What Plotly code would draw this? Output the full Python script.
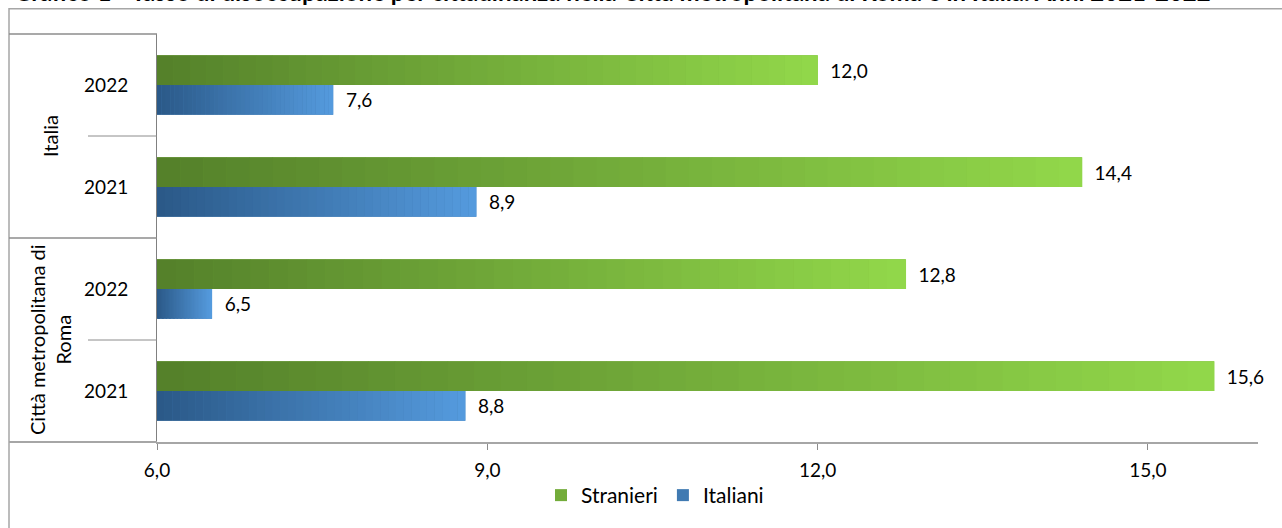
import plotly.graph_objects as go

# ---- data ----
groups = ["Italia", "Italia", "Città metropolitana di<br>Roma", "Città metropolitana di<br>Roma"]
years = ["2022", "2021", "2022", "2021"]
stranieri = [12.0, 14.4, 12.8, 15.6]
italiani = [7.6, 8.9, 6.5, 8.8]
group_labels = ["Italia", "Città metropolitana di<br>Roma"]
x_ticks = [6, 9, 12, 15]
title_text = ("Grafico 1 - Tasso di disoccupazione per cittadinanza nella Città metropolitana di Roma "
              "e in Italia. Anni 2021-2022")

# ---- styling ----
AX_MIN, AX_MAX = 6, 16
N_SEG = 40
FONT = "Lato"
green_dark, green_light = (84, 128, 42), (146, 216, 74)
blue_dark, blue_light = (42, 88, 135), (85, 155, 222)

cat_ids = [f"{g}|{y}" for g, y in zip(groups, years)]


def mix(c0, c1, t):
    return "rgb({},{},{})".format(*[round(a + (b - a) * t) for a, b in zip(c0, c1)])


fig = go.Figure()


def add_series(name, vals, c0, c1, rank):
    # base bar (carries value labels + legend)
    fig.add_trace(go.Bar(
        y=cat_ids, x=vals, orientation="h", name=name,
        marker=dict(color=mix(c0, c1, 0.5), line=dict(width=0)),
        offsetgroup=name, legendrank=rank,
        texttemplate="\u00a0\u00a0%{x:.1f}", textposition="outside",
        textfont=dict(family=FONT, size=19, color="#000000"),
        cliponaxis=False,
    ))
    # gradient overlay segments
    ys, xs, bs, cs = [], [], [], []
    for cid, v in zip(cat_ids, vals):
        w = (v - AX_MIN) / N_SEG
        for k in range(N_SEG):
            ys.append(cid)
            xs.append(w * 1.02)
            bs.append(AX_MIN + k * w)
            cs.append(mix(c0, c1, (k + 0.5) / N_SEG))
    fig.add_trace(go.Bar(
        y=ys, x=xs, base=bs, orientation="h", showlegend=False,
        marker=dict(color=cs, line=dict(width=0)), offsetgroup=name,
        hoverinfo="skip",
    ))


add_series("Italiani", italiani, blue_dark, blue_light, 2)
add_series("Stranieri", stranieri, green_dark, green_light, 1)

W, H = 1282, 528
PL, PT = 157, 34
PR = W - 1258
PB = H - 446
pw = W - PL - PR
ph = H - PT - PB


def px_x(p):
    return (p - PL) / pw


def px_y(p):
    return 1 - (p - PT) / ph


line_col = "#8C8C8C"
shapes = [
    # outer chart border
    dict(type="rect", xref="paper", yref="paper", x0=px_x(9), x1=px_x(1300),
         y0=px_y(560), y1=px_y(8.5), line=dict(color="#A6A6A6", width=1.5)),
    # label area dividers
    dict(type="line", xref="paper", yref="paper", x0=px_x(9), x1=0, y0=1, y1=1,
         line=dict(color=line_col, width=1.5)),
    dict(type="line", xref="paper", yref="paper", x0=px_x(9), x1=0, y0=0.5, y1=0.5,
         line=dict(color=line_col, width=1.5)),
    dict(type="line", xref="paper", yref="paper", x0=px_x(9), x1=0, y0=0, y1=0,
         line=dict(color="#A6A6A6", width=2)),
    dict(type="line", xref="paper", yref="paper", x0=px_x(88), x1=0, y0=0.75, y1=0.75,
         line=dict(color=line_col, width=1)),
    dict(type="line", xref="paper", yref="paper", x0=px_x(88), x1=0, y0=0.25, y1=0.25,
         line=dict(color=line_col, width=1)),
]

annotations = []
for gl, yc in zip(group_labels, [0.75, 0.25]):
    annotations.append(dict(
        text=gl, xref="paper", yref="paper", x=px_x(50), y=yc, textangle=-90,
        showarrow=False, xanchor="center", yanchor="middle",
        font=dict(family=FONT, size=20, color="#000000"),
    ))
annotations.append(dict(
    text=f"<b>{title_text}</b>", xref="paper", yref="paper", x=px_x(12), y=1,
    xanchor="left", yanchor="bottom", yshift=PT - 8, showarrow=False,
    font=dict(family=FONT, size=24, color="#000000"),
))

fig.update_layout(
    width=W, height=H,
    margin=dict(l=PL, r=PR, t=PT, b=PB),
    paper_bgcolor="white", plot_bgcolor="white",
    barmode="group", bargap=0.417, bargroupgap=0,
    separators=",.",
    font=dict(family=FONT, size=19, color="#000000"),
    showlegend=True,
    legend=dict(orientation="h", x=px_x(655), y=px_y(500), xanchor="center", yanchor="middle",
                font=dict(family=FONT, size=21, color="#000000"), itemwidth=30,
                bgcolor="rgba(0,0,0,0)"),
    shapes=shapes, annotations=annotations,
    xaxis=dict(range=[AX_MIN, AX_MAX], tickvals=x_ticks, tickformat=".1f",
               showgrid=False, zeroline=False, showline=True, linecolor="#A6A6A6", linewidth=2,
               ticks="outside", ticklen=6, tickcolor="#8C8C8C", tickwidth=1,
               tickfont=dict(family=FONT, size=19, color="#000000"), ticklabelstandoff=4),
    yaxis=dict(type="category", categoryorder="array", categoryarray=list(reversed(cat_ids)),
               tickvals=cat_ids, ticktext=years, showgrid=False, zeroline=False,
               showline=True, linecolor="#808080", linewidth=1, ticks="",
               ticklabelstandoff=24,
               tickfont=dict(family=FONT, size=19, color="#000000")),
)

fig.write_html("out.html", config={"displayModeBar": False},
               post_script="document.body.style.margin='0';document.body.style.overflow='hidden';")
